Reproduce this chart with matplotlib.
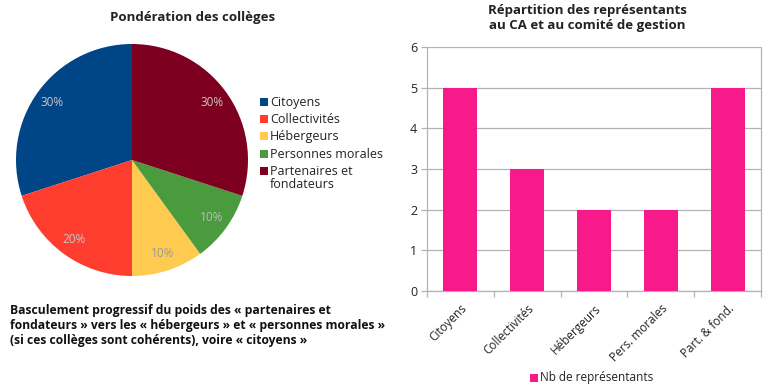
import matplotlib
matplotlib.use("Agg")
import matplotlib.pyplot as plt
import numpy as np
from matplotlib.patches import Rectangle

plt.rcParams['font.family'] = ['Open Sans', 'DejaVu Sans']

# Pie data
pie_labels = ["Citoyens", "Collectivités", "Hébergeurs", "Personnes morales", "Partenaires et\nfondateurs"]
pie_values = [30, 20, 10, 10, 30]
pie_colors = ["#004586", "#FF3D2E", "#FFCA50", "#4A9A3E", "#7E0021"]

# Bar data
bar_categories = ["Citoyens", "Collectivités", "Hébergeurs", "Pers. morales", "Part. & fond."]
bar_values = [5, 3, 2, 2, 5]
bar_color = "#F8198A"
bar_series = "Nb de représentants"

W, H = 768, 386
fig = plt.figure(figsize=(W / 100, H / 100), dpi=100)
fig.patch.set_facecolor("white")

def ax_px(x0, y0, x1, y1):
    return fig.add_axes([x0 / W, 1 - y1 / H, (x1 - x0) / W, (y1 - y0) / H])

# ---- Pie ----
pax = ax_px(16, 44, 248, 276)
wedges, texts, autotexts = pax.pie(
    pie_values, colors=pie_colors, startangle=90, counterclock=True,
    autopct=lambda p: f"{p:.0f}%", pctdistance=0.85,
    wedgeprops=dict(linewidth=0),
    textprops=dict(color="#c8c8c8", fontsize=8.5))
autotexts[2].set_color("#9a9a9a")
autotexts[3].set_color("#bdbdbd")
pax.set_aspect("equal")
pax.set_xlim(-1, 1)
pax.set_ylim(-1, 1)

fig.text(193 / W, 1 - 17 / H, "Pondération des collèges", ha="center", va="center",
         fontsize=9.5, fontweight="bold", color="#222222")

# pie legend
leg_y = [102, 119, 136, 154, 171]
for lab, col, y in zip(pie_labels, pie_colors, leg_y):
    fig.patches.append(Rectangle((260 / W, 1 - (y + 4) / H), 8 / W, 8 / H,
                                 transform=fig.transFigure, facecolor=col, edgecolor="none"))
    fig.text(270 / W, 1 - (y - 6) / H, lab, ha="left", va="top", fontsize=9,
             color="#222222", linespacing=1.05)

fig.text(10 / W, 1 - 304 / H,
         "Basculement progressif du poids des « partenaires et\n"
         "fondateurs » vers les « hébergeurs » et « personnes morales »\n"
         "(si ces collèges sont cohérents), voire « citoyens »",
         ha="left", va="top", fontsize=8.7, fontweight="bold", color="#111111",
         linespacing=1.18)

# ---- Bar chart ----
bax = ax_px(427, 47, 761, 291)
x = np.arange(len(bar_categories))
bax.bar(x, bar_values, width=0.51, color=bar_color, zorder=3)
bax.set_xlim(-0.5, len(bar_categories) - 0.5)
bax.set_ylim(0, 6)
bax.set_yticks(range(0, 7))
bax.yaxis.grid(True, color="#b3b3b3", linewidth=0.9, zorder=0)
for s in bax.spines.values():
    s.set_color("#b3b3b3")
    s.set_linewidth(0.9)
bax.spines["top"].set_visible(False)
bax.set_xticks(x)
bax.set_xticklabels(bar_categories, rotation=45, ha="right", rotation_mode="anchor",
                    fontsize=8.5, color="#222222")
bax.tick_params(axis="x", which="major", length=0, pad=8)
bax.set_xticks(np.arange(-0.5, len(bar_categories)), minor=True)
bax.tick_params(axis="x", which="minor", length=4, color="#b3b3b3", width=0.9)
bax.tick_params(axis="y", length=4, color="#b3b3b3", width=0.9, labelsize=9,
                labelcolor="#1a2530", pad=3)

fig.text(587 / W, 1 - 18 / H, "Répartition des représentants\nau CA et au comité de gestion",
         ha="center", va="center", fontsize=9.5, fontweight="bold", color="#222222",
         linespacing=1.15)

fig.patches.append(Rectangle((530 / W, 1 - 382 / H), 8 / W, 8 / H,
                             transform=fig.transFigure, facecolor=bar_color, edgecolor="none"))
fig.text(540 / W, 1 - 378 / H, bar_series, ha="left", va="center", fontsize=8.5,
         color="#222222")

fig.savefig("out.png", dpi=100, facecolor="white")
